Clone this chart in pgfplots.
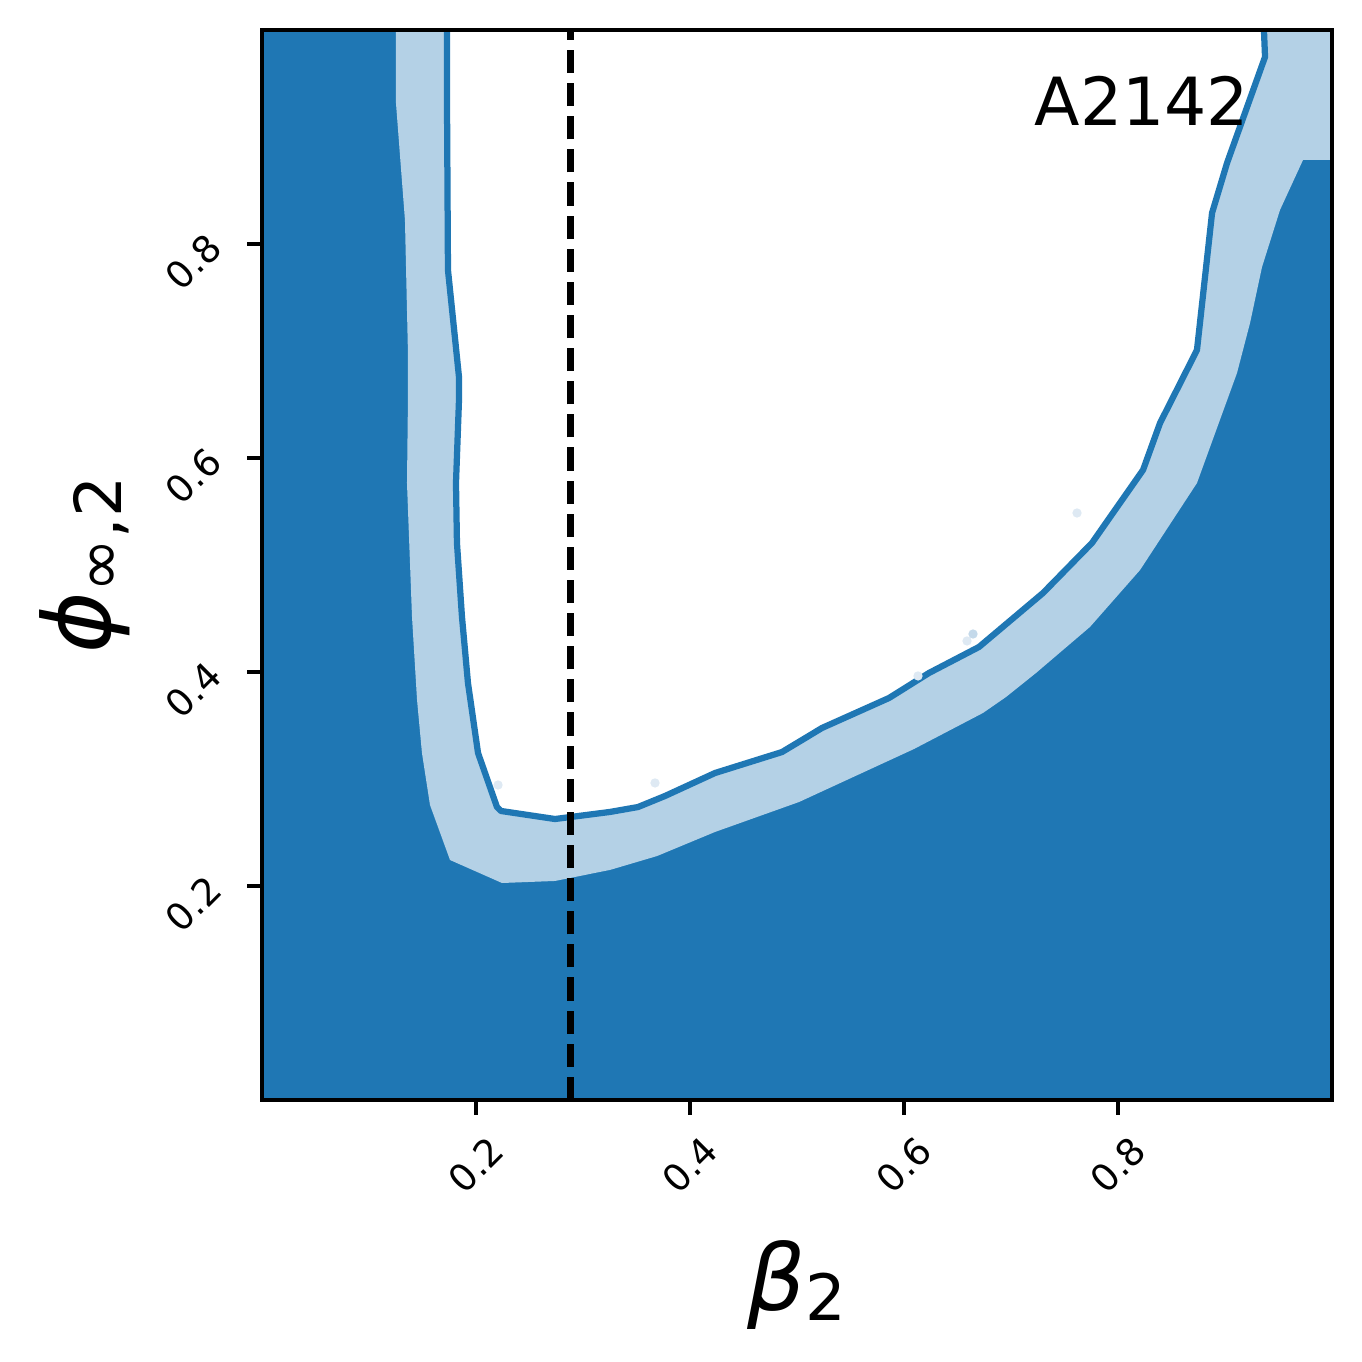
\documentclass[border=0pt]{standalone}
\usepackage{fontspec}
\setmainfont{DejaVu Sans}
\usepackage{pgfplots}
\pgfplotsset{compat=1.18}
\definecolor{c0}{RGB}{31,119,180}
\definecolor{c1}{RGB}{180,209,230}
\definecolor{cdot}{RGB}{222,233,243}
\definecolor{cdotb}{RGB}{196,217,234}
\begin{document}
\begin{tikzpicture}
\path[use as bounding box] (0,0) rectangle (326.88bp,326.64bp);
\begin{axis}[
  at={(62.88bp,62.64bp)}, anchor=south west,
  scale only axis, width=256.8bp, height=256.8bp,
  xmin=0, xmax=1, ymin=0, ymax=1, enlargelimits=false,
  axis background/.style={fill=c0},
  axis on top,
  axis line style={black, line width=0.8bp},
  tick pos=left, tick align=outside,
  major tick length=3.5bp,
  every tick/.style={black, line width=0.8bp},
  xtick={0.2,0.4,0.6,0.8}, ytick={0.2,0.4,0.6,0.8},
  minor tick num=0,
  /pgf/number format/assume math mode=true,
  /pgf/number format/fixed, /pgf/number format/fixed zerofill, /pgf/number format/precision=1,
  ticklabel style={font=\fontsize{9}{10}\selectfont, inner sep=0pt},
  xticklabel style={yshift=-12bp, rotate=45, anchor=center},
  yticklabel style={xshift=-13bp, yshift=-4.3bp, rotate=45, anchor=center},
  xlabel={{\fontsize{22}{24}\selectfont\itshape β}\raisebox{-2.4bp}{\fontsize{15.4}{16}\selectfont 2}},
  xlabel style={at={(axis description cs:0.5,-0.197)}, anchor=base, inner sep=0pt},
  ylabel={{\fontsize{22.5}{24}\selectfont\itshape ϕ}\raisebox{-2.8bp}{\fontsize{15.6}{16}\selectfont ∞,2}},
  ylabel style={at={(axis description cs:-0.142,0.5)}, anchor=base, inner sep=0pt},
]
% light (outer) contour region
\addplot[fill=c1, draw=none] coordinates {
(0.1252,1.0) (0.1252,0.9318) (0.1336,0.8224) (0.1364,0.6981) (0.1364,0.6542)
(0.1355,0.5766) (0.1402,0.4514) (0.1449,0.3738) (0.1495,0.3243) (0.1570,0.2757)
(0.1757,0.2243) (0.2243,0.2028) (0.2738,0.2047) (0.3252,0.2150) (0.3692,0.2280)
(0.4234,0.2505) (0.5019,0.2785) (0.6093,0.3280) (0.6738,0.3617) (0.6953,0.3766)
(0.7234,0.3991) (0.7738,0.4421) (0.8206,0.4953) (0.8738,0.5766) (0.9112,0.6794)
(0.9234,0.7262) (0.9346,0.7785) (0.9514,0.8318) (0.9729,0.8785) (1.0,0.8785)
(1.0,1.0) (0.1252,1.0)
};
% white (inner) region
\addplot[fill=white, draw=none] coordinates {
(0.1729,1.0) (0.1729,0.9318) (0.1738,0.7757) (0.1841,0.6757) (0.1841,0.6542)
(0.1813,0.5766) (0.1822,0.5206) (0.1869,0.4514) (0.1925,0.3897) (0.2019,0.3243)
(0.2196,0.2738) (0.2234,0.2701) (0.2738,0.2626) (0.3252,0.2692) (0.3514,0.2738)
(0.3766,0.2841) (0.4234,0.3056) (0.4860,0.3252) (0.5234,0.3477) (0.5860,0.3757)
(0.6234,0.3991) (0.6701,0.4234) (0.7299,0.4738) (0.7757,0.5206) (0.8234,0.5888)
(0.8393,0.6327) (0.8738,0.7009) (0.8879,0.8290) (0.9019,0.8757) (0.9374,0.9748)
(0.9364,1.0) (0.1729,1.0)
};
% faint sample points
\addplot[only marks, mark=*, mark size=0.9bp, color=cdot, mark options={draw=cdot, fill=cdot}] coordinates {
(0.3673,0.2963) (0.6589,0.4290) (0.6131,0.3963) (0.7617,0.5486) (0.2206,0.2944)
};
\addplot[only marks, mark=*, mark size=0.9bp, color=cdotb, mark options={draw=cdotb, fill=cdotb}] coordinates {
(0.6645,0.4355)
};
% inner contour line
\addplot[c0, line width=1.5bp, line join=round] coordinates {
(0.1729,1.0) (0.1729,0.9318) (0.1738,0.7757) (0.1841,0.6757) (0.1841,0.6542)
(0.1813,0.5766) (0.1822,0.5206) (0.1869,0.4514) (0.1925,0.3897) (0.2019,0.3243)
(0.2196,0.2738) (0.2234,0.2701) (0.2738,0.2626) (0.3252,0.2692) (0.3514,0.2738)
(0.3766,0.2841) (0.4234,0.3056) (0.4860,0.3252) (0.5234,0.3477) (0.5860,0.3757)
(0.6234,0.3991) (0.6701,0.4234) (0.7299,0.4738) (0.7757,0.5206) (0.8234,0.5888)
(0.8393,0.6327) (0.8738,0.7009) (0.8879,0.8290) (0.9019,0.8757) (0.9374,0.9748)
(0.9364,1.0)
};
% reference value
\addplot[black, line width=1.5bp, dash pattern=on 5.55bp off 2.4bp] coordinates {
(0.2883,0) (0.2883,1)
};
\node[anchor=base west, inner sep=0pt, font=\fontsize{16}{18}\selectfont] at (axis cs:0.7215,0.9112) {A2142};
\end{axis}
\end{tikzpicture}
\end{document}
